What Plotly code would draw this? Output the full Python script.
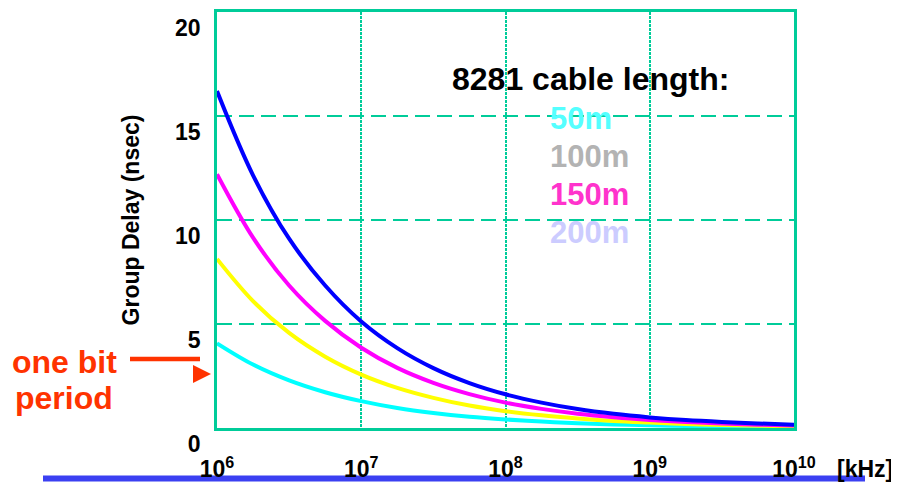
import plotly.graph_objects as go

# ---- data ----
freq_khz = [1e6, 1.778e6, 3.162e6, 5.623e6, 1e7, 1.778e7, 3.162e7, 5.623e7, 1e8,
            1.778e8, 3.162e8, 5.623e8, 1e9, 1.778e9, 3.162e9, 5.623e9, 1e10]

delay_50m = [4.07, 3.05, 2.29, 1.72, 1.29, 0.96, 0.72, 0.54, 0.41, 0.31, 0.23, 0.17, 0.13, 0.10, 0.07, 0.05, 0.04]
delay_100m = [8.13, 6.10, 4.57, 3.43, 2.57, 1.93, 1.45, 1.08, 0.81, 0.61, 0.46, 0.34, 0.26, 0.19, 0.14, 0.11, 0.08]
delay_150m = [12.2, 9.15, 6.85, 5.15, 3.86, 2.89, 2.17, 1.63, 1.22, 0.92, 0.69, 0.52, 0.39, 0.29, 0.22, 0.16, 0.12]
delay_200m = [16.2, 12.15, 9.10, 6.85, 5.12, 3.84, 2.88, 2.16, 1.62, 1.22, 0.91, 0.68, 0.51, 0.38, 0.29, 0.22, 0.16]

series_names = ["50m", "100m", "150m", "200m"]
line_colors = ["#00FFFF", "#FFFF00", "#FF00FF", "#0000FF"]
label_colors = ["#55FFFF", "#B3B3B3", "#FF33CC", "#CCCCFF"]

x_tickvals = [1e6, 1e7, 1e8, 1e9, 1e10]
x_ticktext = ["10<sup>6</sup>", "10<sup>7</sup>", "10<sup>8</sup>", "10<sup>9</sup>", "10<sup>10</sup>"]
y_tickvals = [0, 5, 10, 15, 20]

GRID = "#00CC99"
FONT = "Arial, Liberation Sans, sans-serif"

# page body has an 8px margin, so the figure is placed at (8, 8)
OFF = 8
L, R, T, B = 217, 794, 12, 428          # plot area in window pixels
W, H = 899 - OFF, 482 - OFF
PW, PH = R - L, B - T


def px(x):
    return (x - L) / PW


def py(y):
    return (B - y) / PH


fig = go.Figure()
for name, ys, col in zip(series_names, [delay_50m, delay_100m, delay_150m, delay_200m], line_colors):
    fig.add_trace(go.Scatter(x=freq_khz, y=ys, mode="lines", name=name,
                             line=dict(color=col, width=4, shape="spline"),
                             showlegend=False, hoverinfo="skip"))

fig.update_layout(
    width=W, height=H,
    margin=dict(l=L - OFF, r=899 - R, t=T - OFF, b=482 - B, autoexpand=False),
    paper_bgcolor="white", plot_bgcolor="white",
    font=dict(family=FONT, color="black", weight="bold"),
    xaxis=dict(type="log", range=[6, 10], tickvals=x_tickvals, ticktext=x_ticktext,
               showgrid=True, gridcolor=GRID, gridwidth=2, griddash="3px,1px",
               showline=True, linecolor=GRID, linewidth=2.5, mirror=True,
               ticks="", ticklabelstandoff=19, automargin=False,
               tickfont=dict(size=23, family=FONT, weight="bold", color="black"),
               zeroline=False),
    yaxis=dict(range=[0, 20], tickvals=y_tickvals,
               showgrid=True, gridcolor=GRID, gridwidth=2, griddash="15px,7px",
               showline=True, linecolor=GRID, linewidth=2.5, mirror=True,
               ticks="", ticklabelstandoff=9, ticklabelshift=16, automargin=False,
               ticklabeloverflow="allow",
               tickfont=dict(size=23, family=FONT, weight="bold", color="black"),
               zeroline=False,
               title=dict(text="Group Delay (nsec)", standoff=30,
                          font=dict(size=23, family=FONT, weight="bold", color="black"))),
)

# white panel behind the legend text (hides the grid)
fig.add_shape(type="rect", xref="paper", yref="paper", x0=px(443), x1=px(743), y0=py(258), y1=py(51),
              fillcolor="white", line=dict(width=0), layer="between")

# legend title and entries
fig.add_annotation(text="8281 cable length:", xref="paper", yref="paper", x=px(590), y=py(79),
                   showarrow=False, xanchor="center", yanchor="middle",
                   font=dict(size=32, family=FONT, weight="bold", color="black"))
entry_y = [118, 156, 194, 232]
for name, col, yy in zip(series_names, label_colors, entry_y):
    fig.add_annotation(text=name, xref="paper", yref="paper", x=px(548), y=py(yy),
                       showarrow=False, xanchor="left", yanchor="middle",
                       font=dict(size=31, family=FONT, weight="bold", color=col))

# [kHz] unit label
fig.add_annotation(text="[kHz]", xref="paper", yref="paper", x=px(865), y=py(469),
                   showarrow=False, xanchor="center", yanchor="middle",
                   font=dict(size=23, family=FONT, weight="bold", color="black"))

# "one bit period" marker
fig.add_annotation(text="one bit", xref="paper", yref="paper", x=px(64), y=py(362),
                   showarrow=False, xanchor="center", yanchor="middle",
                   font=dict(size=32, family=FONT, weight="bold", color="#FF3300"))
fig.add_annotation(text="period", xref="paper", yref="paper", x=px(64), y=py(398),
                   showarrow=False, xanchor="center", yanchor="middle",
                   font=dict(size=32, family=FONT, weight="bold", color="#FF3300"))
fig.add_shape(type="line", xref="paper", yref="paper", x0=px(130), x1=px(200), y0=py(359), y1=py(359),
              line=dict(color="#FF3300", width=4.5))
fig.add_shape(type="path", xref="paper", yref="paper",
              path=f"M {px(193):.4f} {py(365):.4f} L {px(193):.4f} {py(383):.4f} L {px(211):.4f} {py(374):.4f} Z",
              fillcolor="#FF3300", line=dict(width=0))

# blue bar at the bottom
fig.add_shape(type="line", xref="paper", yref="paper", x0=px(43), x1=px(865), y0=py(478.5), y1=py(478.5),
              line=dict(color="#3B40F2", width=6), layer="below")

fig.write_html("out.html")
